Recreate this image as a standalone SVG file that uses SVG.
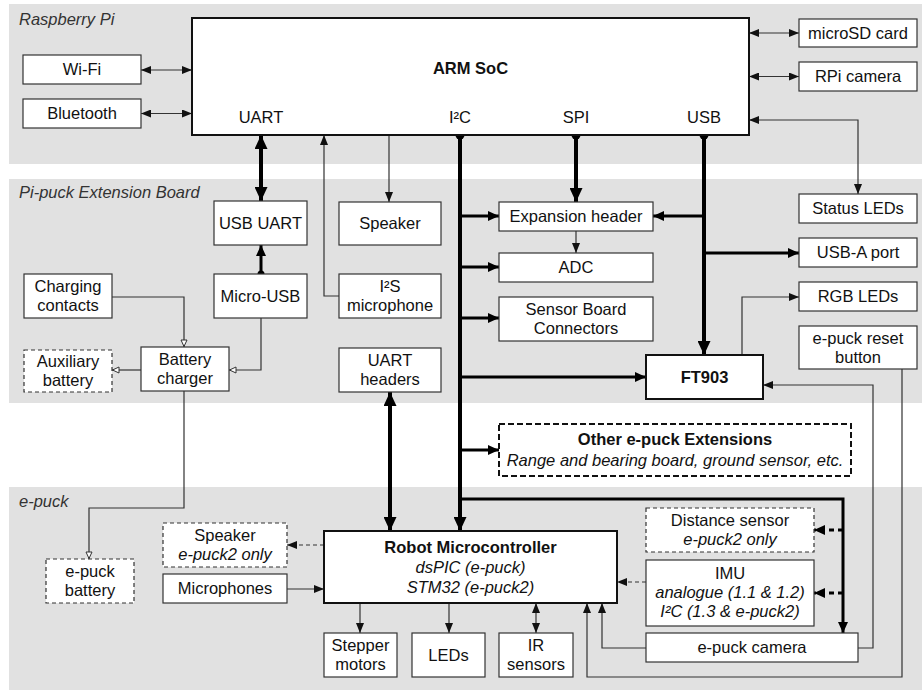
<svg xmlns="http://www.w3.org/2000/svg" width="922" height="690" viewBox="0 0 922 690">
<style>
.bg{fill:#e1e1e1}
.box{fill:#fff;stroke:#333;stroke-width:1.2}
.bbox{fill:#fff;stroke:#111;stroke-width:2}
.dash{stroke-dasharray:4 3}
.odash{fill:#fff;stroke:#111;stroke-width:2;stroke-dasharray:6 3}
text{font-family:"Liberation Sans",Arial,Helvetica,sans-serif;font-size:16.5px;fill:#111}
.c{text-anchor:middle}
.i{font-style:italic}
.b{font-weight:bold}
.lbl{font-style:italic;fill:#333}
.thin{stroke:#333;stroke-width:1.2;fill:none}
.thick{stroke:#000;stroke-width:4;fill:none}
.med{stroke:#000;stroke-width:3;fill:none}
</style>
<defs>
<marker id="a" markerUnits="userSpaceOnUse" markerWidth="10" markerHeight="8" refX="10" refY="4" orient="auto-start-reverse"><path d="M0,0 L10,4 L0,8 Z" fill="#111"/></marker>
<marker id="o" markerUnits="userSpaceOnUse" markerWidth="9" markerHeight="8" refX="8" refY="4" orient="auto-start-reverse"><path d="M1,1 L7.5,4 L1,7 Z" fill="#fff" stroke="#333" stroke-width="1"/></marker>
<marker id="A" markerUnits="userSpaceOnUse" markerWidth="14" markerHeight="13" refX="14" refY="6.5" orient="auto-start-reverse"><path d="M0,0 L14,6.5 L0,13 Z" fill="#000"/></marker>
<marker id="m" markerUnits="userSpaceOnUse" markerWidth="11" markerHeight="10" refX="11" refY="5" orient="auto-start-reverse"><path d="M0,0 L11,5 L0,10 Z" fill="#000"/></marker>
</defs>

<g id="regions">
<rect class="bg" x="9" y="4" width="913" height="160"/>
<rect class="bg" x="9" y="179" width="913" height="224"/>
<rect class="bg" x="9" y="487" width="913" height="203"/>
<text class="lbl" x="19" y="25">Raspberry Pi</text>
<text class="lbl" x="19" y="198">Pi-puck Extension Board</text>
<text class="lbl" x="19" y="507">e-puck</text>
</g>

<g id="connectors">
<path class="thin" d="M141,70 H192" marker-start="url(#a)" marker-end="url(#a)"/>
<path class="thin" d="M141,113.5 H192" marker-start="url(#a)" marker-end="url(#a)"/>
<path class="thin" d="M749,33 H799" marker-start="url(#a)" marker-end="url(#a)"/>
<path class="thin" d="M749,76.5 H799" marker-start="url(#a)" marker-end="url(#a)"/>
<path class="thin" d="M749,120 H858 V194" marker-start="url(#a)" marker-end="url(#a)"/>
<path class="thin" d="M389,135 V202" marker-end="url(#a)"/>
<path class="thin" d="M339,296 H324 V135" marker-end="url(#a)"/>
<path class="thick" d="M261,135 V201" marker-start="url(#A)" marker-end="url(#A)"/>
<path class="med" d="M261,274 V245" marker-end="url(#m)"/>
<circle cx="261" cy="274" r="3.5"/>
<path class="thin" d="M112,297 H184 V347" marker-end="url(#o)"/>
<path class="thin" d="M261,318 V370 H229" marker-end="url(#o)"/>
<path class="thin" d="M141,370 H112" marker-end="url(#o)"/>
<path class="thin" d="M184,391 V508 H89 V559" marker-end="url(#o)"/>
<path class="thick" d="M390,392 V531" marker-start="url(#A)" marker-end="url(#A)"/>
<path class="thick" d="M460,135 V531" marker-end="url(#A)"/>
<circle cx="460" cy="135" r="4.5"/>
<path class="med" d="M460,216 H499" marker-end="url(#m)"/>
<path class="med" d="M460,267 H499" marker-end="url(#m)"/>
<path class="med" d="M460,318 H499" marker-end="url(#m)"/>
<path class="med" d="M460,377 H646" marker-end="url(#m)"/>
<path class="med" d="M460,450 H499" marker-end="url(#m)"/>
<path class="med" d="M460,499 H843 V633" marker-end="url(#m)"/>
<path class="med" d="M843,530 H814" stroke-dasharray="5 4" marker-end="url(#m)"/>
<path class="med" d="M843,593 H814" stroke-dasharray="5 4" marker-end="url(#m)"/>
<path class="thick" d="M576,135 V202" marker-end="url(#A)"/>
<circle cx="576" cy="135" r="4.5"/>
<path class="thin" d="M576,231 V253" marker-end="url(#a)"/>
<path class="thick" d="M704,135 V355" marker-end="url(#A)"/>
<circle cx="704" cy="135" r="4.5"/>
<path class="med" d="M704,216 H653" marker-end="url(#m)"/>
<path class="med" d="M704,253 H799" marker-end="url(#m)"/>
<path class="thin" d="M742,355 V297 H799" marker-end="url(#a)"/>
<path class="thin" d="M902,369 V677 H587 V603" marker-end="url(#a)"/>
<path class="thin" d="M858,648 H873 V385 H763" marker-end="url(#a)"/>
<path class="thin" d="M646,648 H602 V603" marker-end="url(#a)"/>
<path class="thin dash" d="M646,582 H617" marker-end="url(#a)"/>
<path class="thin dash" d="M324,545 H287" marker-end="url(#a)"/>
<path class="thin" d="M287,589 H324" marker-end="url(#a)"/>
<path class="thin" d="M360,603 V633" marker-end="url(#a)"/>
<path class="thin" d="M449,603 V633" marker-end="url(#a)"/>
<path class="thin" d="M536,603 V633" marker-start="url(#a)" marker-end="url(#a)"/>
</g>

<g id="arm-soc"><rect class="bbox" x="192" y="18" width="557" height="117"/>
<text class="c b" x="470.5" y="74">ARM SoC</text>
<text class="c" x="261" y="123">UART</text>
<text class="c" x="460" y="123">I²C</text>
<text class="c" x="576" y="123">SPI</text>
<text class="c" x="704" y="123">USB</text></g>
<g id="wifi"><rect class="box" x="23" y="55" width="118" height="29"/><text class="c" x="82" y="75">Wi-Fi</text></g>
<g id="bluetooth"><rect class="box" x="23" y="99" width="118" height="29"/><text class="c" x="82" y="119">Bluetooth</text></g>
<g id="microsd"><rect class="box" x="799" y="19" width="118" height="28"/><text class="c" x="858" y="39">microSD card</text></g>
<g id="rpi-camera"><rect class="box" x="799" y="62" width="118" height="29"/><text class="c" x="858" y="82">RPi camera</text></g>
<g id="status-leds"><rect class="box" x="799" y="194" width="118" height="29"/><text class="c" x="858" y="214">Status LEDs</text></g>
<g id="usb-a"><rect class="box" x="799" y="238" width="118" height="29"/><text class="c" x="858" y="258">USB-A port</text></g>
<g id="rgb-leds"><rect class="box" x="799" y="282" width="118" height="29"/><text class="c" x="858" y="302">RGB LEDs</text></g>
<g id="reset"><rect class="box" x="799" y="326" width="118" height="43"/><text class="c" x="858" y="344">e-puck reset</text><text class="c" x="858" y="363">button</text></g>
<g id="usb-uart"><rect class="box" x="214" y="201" width="93" height="44"/><text class="c" x="260.5" y="229">USB UART</text></g>
<g id="micro-usb"><rect class="box" x="214" y="274" width="93" height="44"/><text class="c" x="260.5" y="302">Micro-USB</text></g>
<g id="speaker"><rect class="box" x="339" y="202" width="102" height="43"/><text class="c" x="390" y="229">Speaker</text></g>
<g id="i2s-mic"><rect class="box" x="339" y="274" width="102" height="44"/><text class="c" x="390" y="292">I²S</text><text class="c" x="390" y="311">microphone</text></g>
<g id="uart-headers"><rect class="box" x="339" y="348" width="102" height="44"/><text class="c" x="390" y="366">UART</text><text class="c" x="390" y="385">headers</text></g>
<g id="charging"><rect class="box" x="24" y="274" width="88" height="44"/><text class="c" x="68" y="292">Charging</text><text class="c" x="68" y="311">contacts</text></g>
<g id="charger"><rect class="box" x="141" y="347" width="88" height="44"/><text class="c" x="185" y="365">Battery</text><text class="c" x="185" y="384">charger</text></g>
<g id="aux-battery"><rect class="box dash" x="24" y="350" width="88" height="42"/><text class="c" x="68" y="367">Auxiliary</text><text class="c" x="68" y="386">battery</text></g>
<g id="expansion"><rect class="box" x="499" y="202" width="154" height="29"/><text class="c" x="576" y="222">Expansion header</text></g>
<g id="adc"><rect class="box" x="499" y="253" width="154" height="29"/><text class="c" x="576" y="273">ADC</text></g>
<g id="sensor-board"><rect class="box" x="499" y="297" width="154" height="44"/><text class="c" x="576" y="315">Sensor Board</text><text class="c" x="576" y="334">Connectors</text></g>
<g id="ft903"><rect class="bbox" x="646" y="355" width="117" height="44"/><text class="c b" x="704.5" y="383">FT903</text></g>
<g id="other-ext"><rect class="odash" x="499" y="424" width="352" height="52"/><text class="c b" x="675" y="445">Other e-puck Extensions</text><text class="c i" x="675" y="466">Range and bearing board, ground sensor, etc.</text></g>
<g id="epuck-battery"><rect class="box dash" x="46" y="559" width="88" height="44"/><text class="c" x="90" y="577">e-puck</text><text class="c" x="90" y="596">battery</text></g>
<g id="speaker2"><rect class="box dash" x="163" y="523" width="124" height="44"/><text class="c" x="225" y="541">Speaker</text><text class="c i" x="225" y="560">e-puck2 only</text></g>
<g id="microphones"><rect class="box" x="163" y="574" width="124" height="29"/><text class="c" x="225" y="594">Microphones</text></g>
<g id="robot-mcu"><rect class="bbox" x="324" y="531" width="293" height="72"/><text class="c b" x="470.5" y="553">Robot Microcontroller</text><text class="c i" x="470.5" y="573">dsPIC (e-puck)</text><text class="c i" x="470.5" y="593">STM32 (e-puck2)</text></g>
<g id="stepper"><rect class="box" x="324" y="633" width="73" height="44"/><text class="c" x="360.5" y="651">Stepper</text><text class="c" x="360.5" y="670">motors</text></g>
<g id="leds"><rect class="box" x="412" y="633" width="73" height="44"/><text class="c" x="448.5" y="661">LEDs</text></g>
<g id="ir"><rect class="box" x="499" y="633" width="74" height="44"/><text class="c" x="536" y="651">IR</text><text class="c" x="536" y="670">sensors</text></g>
<g id="distance"><rect class="box dash" x="646" y="508" width="168" height="44"/><text class="c" x="730" y="526">Distance sensor</text><text class="c i" x="730" y="545">e-puck2 only</text></g>
<g id="imu"><rect class="box" x="646" y="560" width="168" height="66"/><text class="c" x="730" y="579">IMU</text><text class="c i" x="730" y="598">analogue (1.1 &amp; 1.2)</text><text class="c i" x="730" y="617">I²C (1.3 &amp; e-puck2)</text></g>
<g id="camera"><rect class="box" x="646" y="633" width="212" height="29"/><text class="c" x="752" y="653">e-puck camera</text></g>
</svg>
